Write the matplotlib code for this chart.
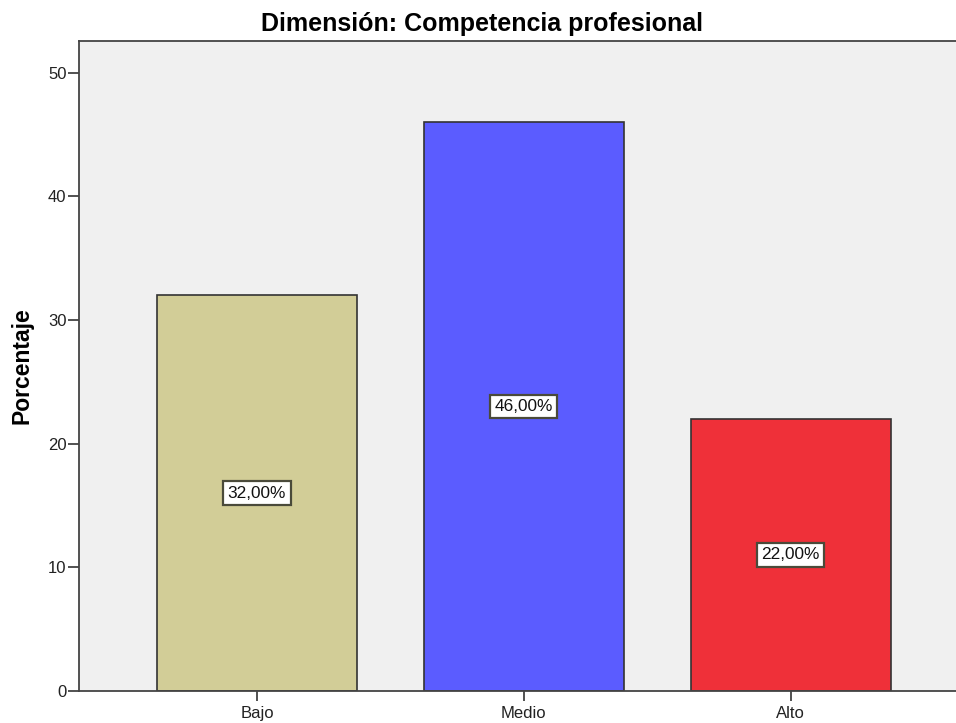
import matplotlib
matplotlib.use("Agg")
import matplotlib.pyplot as plt

categories = ["Bajo", "Medio", "Alto"]
percentages = [32.0, 46.0, 22.0]
bar_colors = ["#d2cd97", "#5b5cff", "#ef3039"]
y_ticks = [0, 10, 20, 30, 40, 50]

plt.rcParams["font.family"] = ["Liberation Sans", "DejaVu Sans"]

fig = plt.figure(figsize=(9.56, 7.23), dpi=100)
ax = fig.add_axes([79 / 956, 32 / 723, 1 - 79 / 956, 650 / 723])
ax.set_facecolor("#f0f0f0")

x = list(range(len(categories)))
ax.bar(x, percentages, width=0.75, color=bar_colors, edgecolor="#333333",
       linewidth=1.2, zorder=2)

for xi, v in zip(x, percentages):
    ax.text(xi, v / 2, f"{v:.2f}".replace(".", ",") + "%", ha="center", va="center",
            fontsize=12.4, color="#111111", zorder=3,
            bbox=dict(boxstyle="square,pad=0.26", facecolor="white",
                      edgecolor="#4a4a3a", linewidth=1.6))

ax.set_xlim(-0.667, 2.62)
ax.set_ylim(0, 52.55)
ax.set_xticks(x)
ax.set_xticklabels(categories)
ax.set_yticks(y_ticks)

for side in ["left", "bottom", "top"]:
    ax.spines[side].set_color("#444444")
    ax.spines[side].set_linewidth(1.3)
ax.spines["right"].set_visible(False)

ax.tick_params(axis="y", direction="out", length=8, width=1.2, color="#333333",
               labelsize=12, labelcolor="#222222", pad=1)
ax.tick_params(axis="x", direction="out", length=7, width=1.2, color="#333333",
               labelsize=12, labelcolor="#222222", pad=4)

ax.set_ylabel("Porcentaje", fontsize=16.5, fontweight="bold", labelpad=10)
fig.text(0.5047, 1 - 24 / 723, "Dimensión: Competencia profesional",
         ha="center", va="center", fontsize=18, fontweight="bold")

fig.savefig("out.png", dpi=100)
